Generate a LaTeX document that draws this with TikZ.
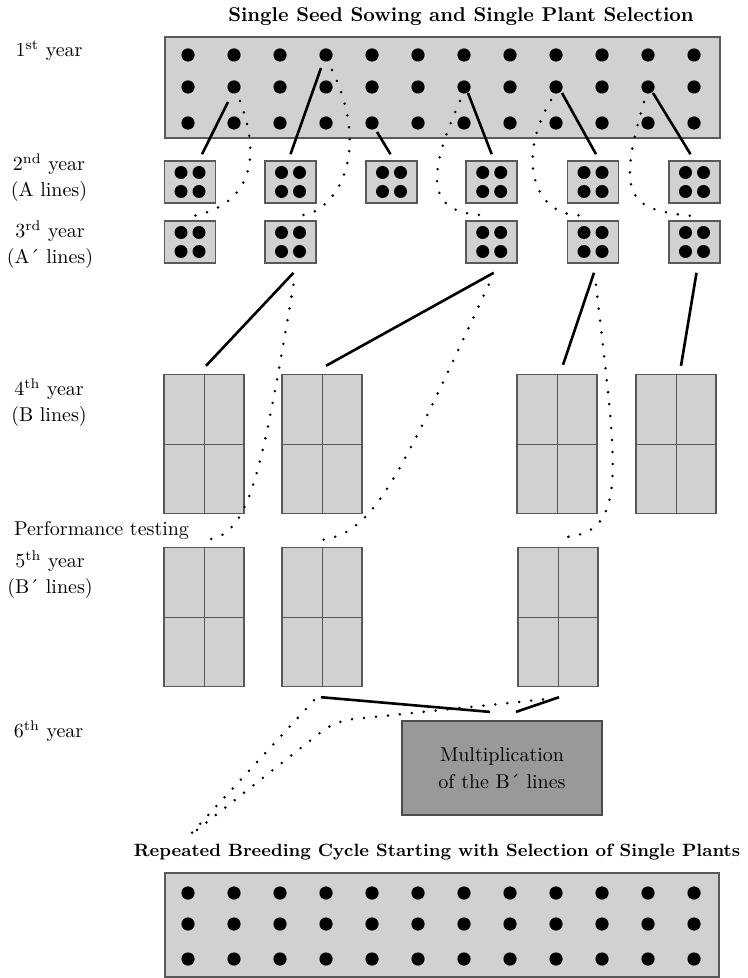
\documentclass[tikz,border=0pt]{standalone}
\usepackage{fontspec}
\usetikzlibrary{calc}
\tikzset{
 field/.style={draw=black!65,fill=black!18,line width=0.9pt,inner sep=0pt},
 seed/.style={circle,fill=black,inner sep=0pt,minimum size=6.6pt},
 plantbox/.style={draw=black!65,fill=black!18,line width=0.8pt,inner sep=0pt,minimum width=25.5pt,minimum height=21pt,
   path picture={\foreach \dx in {-4.5pt,4.5pt} \foreach \dy in {-4.75pt,4.75pt}
     \fill[black] ([shift={(\dx,\dy)}]path picture bounding box.center) circle (3.25pt);}},
 plotblock/.style={draw=black!65,fill=black!18,line width=0.7pt,inner sep=0pt,minimum width=40pt,minimum height=69.5pt,
   path picture={\draw[black!65,line width=0.5pt] (path picture bounding box.north) -- (path picture bounding box.south)
     (path picture bounding box.west) -- (path picture bounding box.east);}},
 multbox/.style={draw=black!70,fill=black!40,line width=0.6pt,minimum width=100pt,minimum height=47pt,align=center,
   font=\fontsize{10}{13.3}\selectfont},
 yearlabel/.style={align=center,inner sep=0pt,font=\fontsize{10}{13}\selectfont},
 headline/.style={inner sep=0pt,font=\fontsize{10}{12}\selectfont\bfseries},
 pick/.style={line width=1.3pt},
 keep/.style={line width=1.4pt,line cap=round,dash pattern=on 0pt off 6pt}
}
\begin{document}
\begin{tikzpicture}[x=0.5pt,y=-0.5pt]
\useasboundingbox (0,0) rectangle (748,978);
\fill[white] (0,0) rectangle (748,978);
\node[headline] (title) at (461,17) {Single Seed Sowing and Single Plant Selection};
\node[field,minimum width=277.5pt,minimum height=50.5pt] (start) at (442.5,87.5) {};
\foreach \r/\y in {1/55,2/87,3/123}
  \foreach \c in {1,...,12}
    \node[seed] (s-\r-\c) at ({142+46*\c},\y) {};
\foreach \n/\x in {1/190,2/290.5,3/391.5,4/491.7,5/593,6/694.5}
  \node[plantbox] (a\n) at (\x,182) {};
\foreach \n/\x in {1/190,2/290.5,4/491.7,5/593,6/694.5}
  \node[plantbox] (b\n) at (\x,242) {};
\foreach \n/\x in {1/204,2/322,3/557,4/676}
  \node[plotblock] (c\n) at (\x,444) {};
\foreach \n/\x in {1/204,2/322,3/558}
  \node[plotblock] (d\n) at (\x,617) {};
\node[multbox] (mult) at (502,768) {Multiplication\\of the B´ lines};
\node[headline,font=\fontsize{8.9}{11}\selectfont\bfseries] (again) at (437,852) {Repeated Breeding Cycle Starting with Selection of Single Plants};
\node[field,minimum width=277pt,minimum height=52pt] (next) at (442,925) {};
\foreach \r/\y in {1/893,2/924,3/959}
  \foreach \c in {1,...,12}
    \node[seed] (n-\r-\c) at ({142+46*\c},\y) {};
\coordinate (cyc) at (188,837);

\node[yearlabel] (y1) at (49,51) {1\textsuperscript{st} year};
\node[yearlabel] (y2) at (49,178) {2\textsuperscript{nd} year\\(A lines)};
\node[yearlabel] (y3) at (50,245) {3\textsuperscript{rd} year\\(A´ lines)};
\node[yearlabel] (y4) at (49,403) {4\textsuperscript{th} year\\(B lines)};
\node[yearlabel] (perf) at (101.5,531) {Performance testing};
\node[yearlabel] (y5) at (50,575) {5\textsuperscript{th} year\\(B´ lines)};
\node[yearlabel] (y6) at (48.5,731) {6\textsuperscript{th} year};

\draw[pick] ($(s-2-2)+(-6,15)$) -- ($(a1.north)+(12,-6)$);
\draw[pick] ($(s-1-4)+(-5,13)$) -- ($(a2.north)+(0,-6)$);
\draw[pick] ($(s-3-5)+(5,9)$) -- ($(a3.north)+(-1,-6)$);
\draw[pick] ($(s-2-7)+(4,6)$) -- ($(a4.north)+(0,-6)$);
\draw[pick] ($(s-2-9)+(6,6)$) -- ($(a5.north)+(3,-6)$);
\draw[pick] ($(s-2-11)+(5,6)$) -- ($(a6.north)+(-4,-6)$);
\draw[keep] ($(s-2-2)+(6,14)$) .. controls (262,160) and (250,205) .. ($(b1.north)+(2,-4)$);
\draw[keep] ($(s-1-4)+(6,15)$) .. controls (375,160) and (330,215) .. ($(b2.north)+(10,-5)$);
\draw[keep] ($(s-2-7)+(-4,14)$) .. controls (420,190) and (435,212) .. ($(b4.north)+(-9,-5)$);
\draw[keep] ($(s-2-9)+(-5,13)$) .. controls (515,160) and (535,218) .. ($(b5.north)+(-10,-5)$);
\draw[keep] ($(s-2-11)+(-4,15)$) .. controls (615,200) and (630,210) .. ($(b6.north)+(0,-4)$);

\draw[pick] ($(b2.south)+(3,9)$) -- ($(c1.north)+(2,-8)$);
\draw[pick] ($(b4.south)+(2,9)$) -- ($(c2.north)+(4,-8)$);
\draw[pick] ($(b5.south)+(1,9)$) -- ($(c3.north)+(6,-9)$);
\draw[pick] ($(b6.south)+(2,9)$) -- ($(c4.north)+(5,-8)$);
\draw[keep] ($(b2.south)+(3,21)$) .. controls (262,470) and (250,538) .. ($(d1.north)+(1,-7)$);
\draw[keep] ($(b4.south)+(-3,21)$) .. controls (400,475) and (375,532) .. ($(d2.north)+(1,-7)$);
\draw[keep] ($(b5.south)+(3,21)$) .. controls (617,470) and (628,530) .. ($(d3.north)+(10,-10)$);

\draw[pick] ($(d2.south)+(-1,10)$) -- ($(mult.north)+(-12,-8.5)$);
\draw[pick] ($(d3.south)+(1,10)$) -- ($(mult.north)+(14,-8.5)$);
\draw[keep,rounded corners=8pt] ($(d3.south)+(-3,11)$) -- (335,721) -- (cyc);
\draw[keep] ($(d2.south)+(-8,13)$) -- (cyc);
\end{tikzpicture}
\end{document}
